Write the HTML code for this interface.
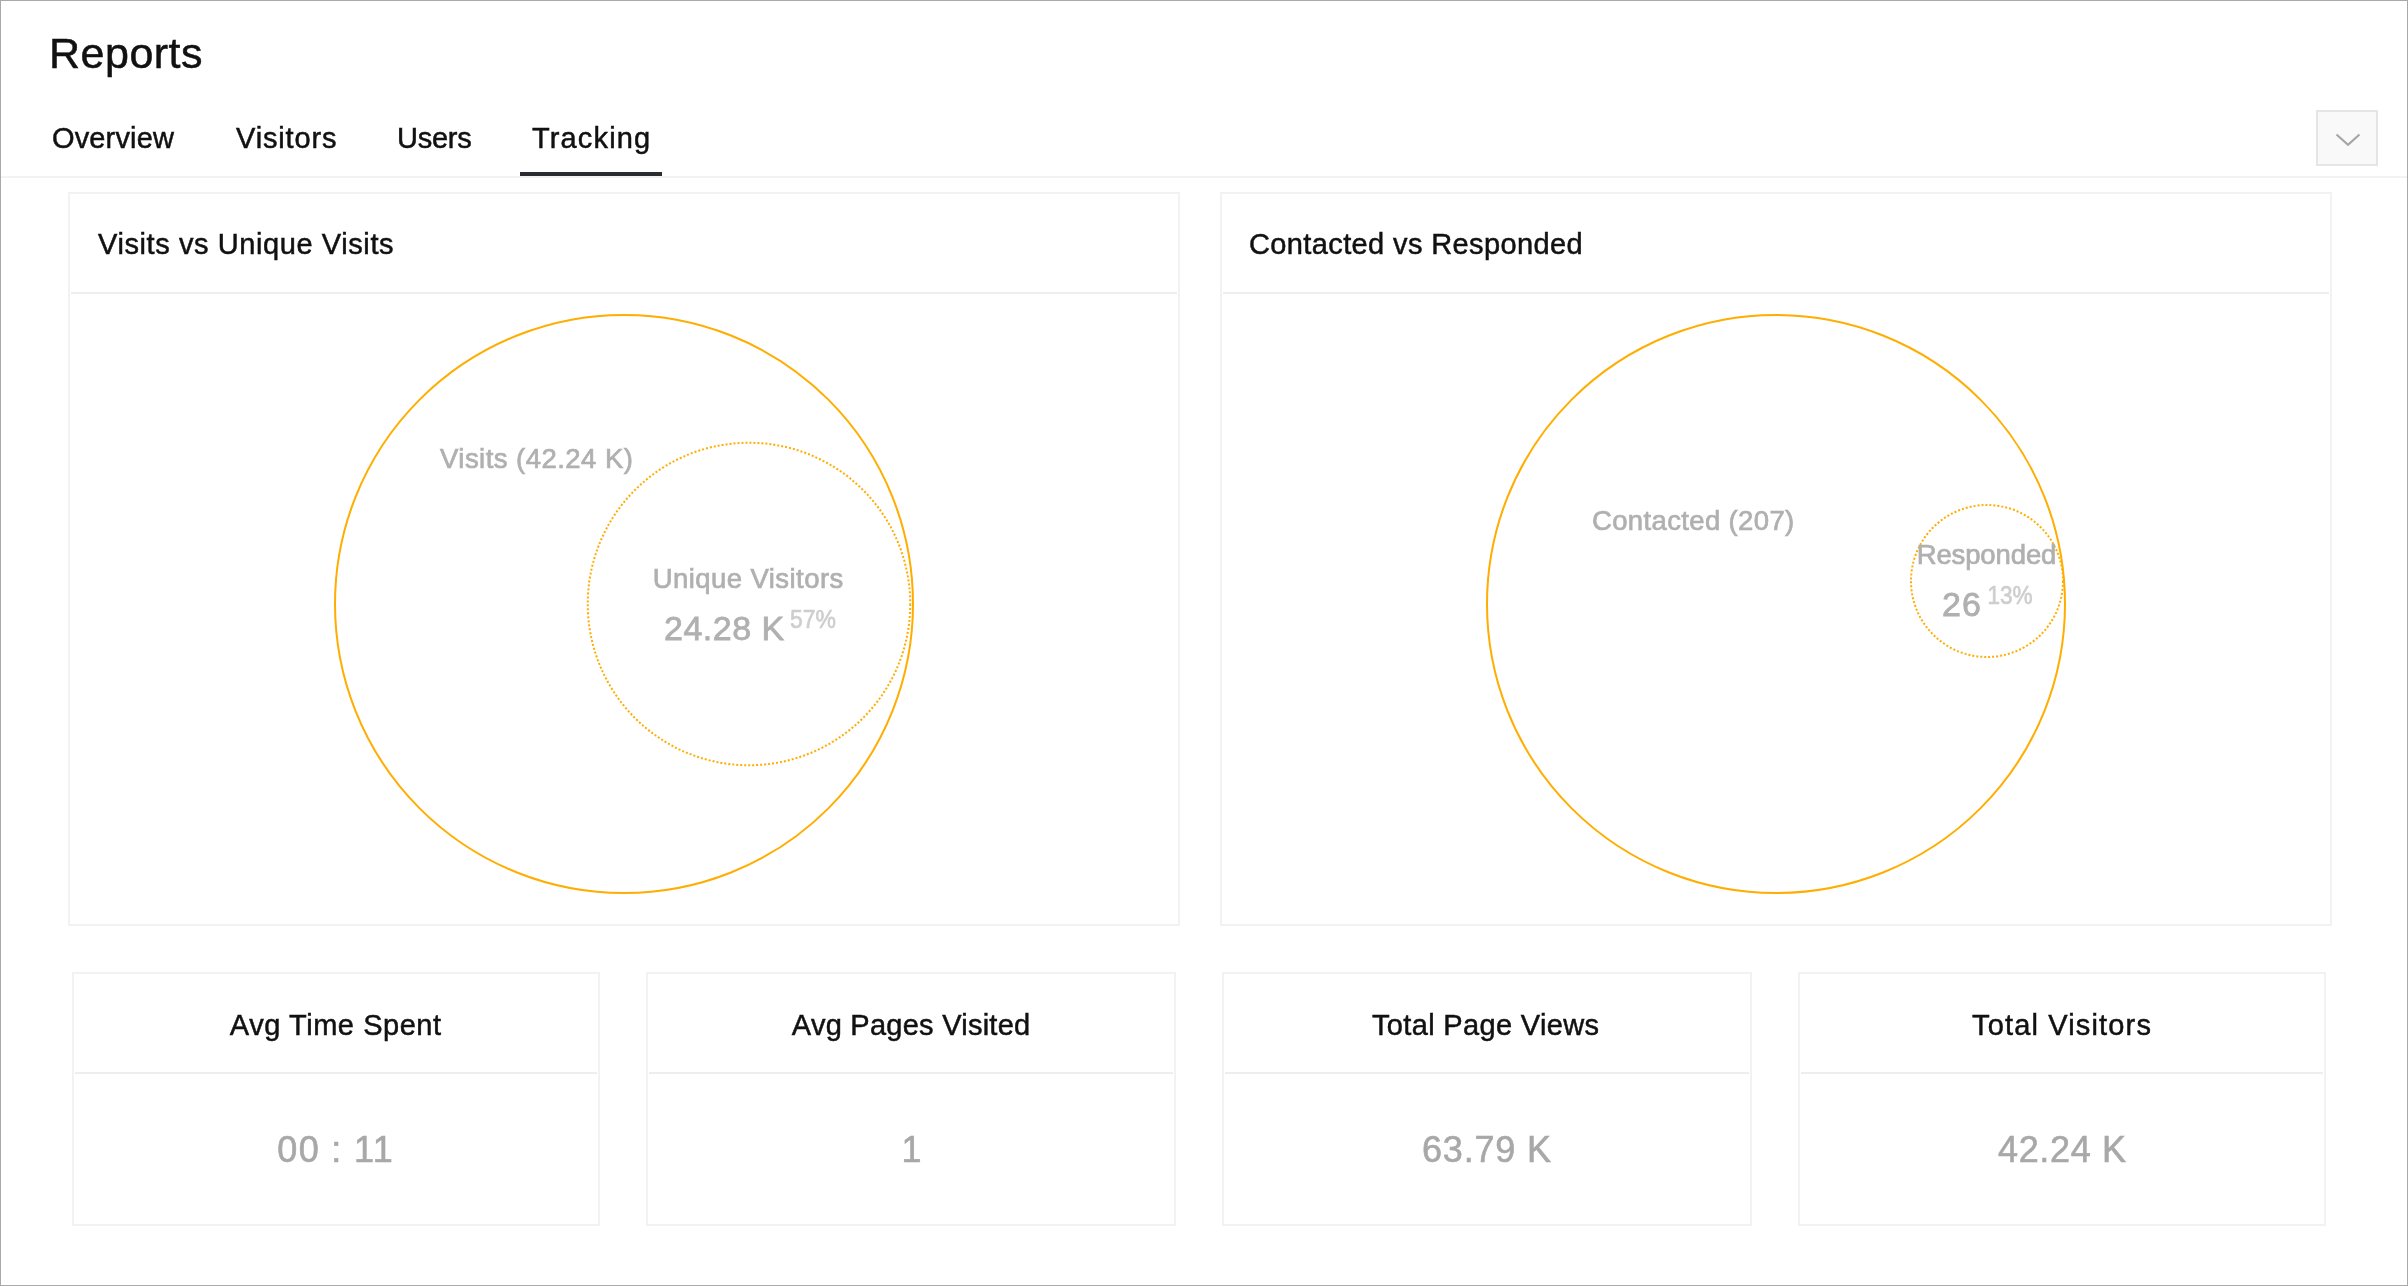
<!DOCTYPE html>
<html>
<head>
<meta charset="utf-8">
<style>
html,body{margin:0;padding:0;background:#fff;}
body{width:2408px;height:1286px;overflow:hidden;font-family:"Liberation Sans",sans-serif;}
svg{display:block;will-change:transform;}
text{font-family:"Liberation Sans",sans-serif;}
</style>
</head>
<body>
<svg width="2408" height="1286" viewBox="0 0 2408 1286">
  <rect x="0.5" y="0.5" width="2407" height="1285" fill="#fff" stroke="#a9a9a9" stroke-width="1"/>
  <rect x="520" y="172" width="142" height="4" fill="#292c30"/>
  <rect x="1" y="176" width="2406" height="2" fill="#f3f3f3"/>
  <rect x="2317" y="111" width="60" height="54" fill="#f9f9f9" stroke="#e5e5e5" stroke-width="2"/>
  <polyline points="2336.5,134.5 2348,144.8 2359.5,134.5" fill="none" stroke="#a6a6a6" stroke-width="2.2"/>
  <rect x="69" y="193" width="1110" height="732" fill="#fff" stroke="#f2f2f2" stroke-width="2"/>
  <rect x="71" y="292" width="1106" height="2" fill="#eeeeee"/>
  <rect x="1221" y="193" width="1110" height="732" fill="#fff" stroke="#f2f2f2" stroke-width="2"/>
  <rect x="1223" y="292" width="1106" height="2" fill="#eeeeee"/>
  <circle cx="624" cy="604" r="289" fill="none" stroke="#ffad00" stroke-width="2"/>
  <circle cx="749" cy="604" r="161.25" fill="none" stroke="#ffad00" stroke-width="2" stroke-dasharray="2 2"/>
  <circle cx="1776" cy="604" r="289" fill="none" stroke="#ffad00" stroke-width="2"/>
  <circle cx="1987" cy="581" r="76" fill="none" stroke="#ffad00" stroke-width="2" stroke-dasharray="2 2"/>
  <rect x="73" y="973" width="526" height="252" fill="#fff" stroke="#f2f2f2" stroke-width="2"/>
  <rect x="75" y="1072" width="522" height="2" fill="#eeeeee"/>
  <rect x="647" y="973" width="528" height="252" fill="#fff" stroke="#f2f2f2" stroke-width="2"/>
  <rect x="649" y="1072" width="524" height="2" fill="#eeeeee"/>
  <rect x="1223" y="973" width="528" height="252" fill="#fff" stroke="#f2f2f2" stroke-width="2"/>
  <rect x="1225" y="1072" width="524" height="2" fill="#eeeeee"/>
  <rect x="1799" y="973" width="526" height="252" fill="#fff" stroke="#f2f2f2" stroke-width="2"/>
  <rect x="1801" y="1072" width="522" height="2" fill="#eeeeee"/>
  <text x="49.0" y="68" fill="#111111" text-anchor="start" style="font-size:43px;letter-spacing:0.499px" stroke="#111111" stroke-width="0.5">Reports</text>
  <text x="52.0" y="148" fill="#111111" text-anchor="start" style="font-size:29px;letter-spacing:0.143px" stroke="#111111" stroke-width="0.5">Overview</text>
  <text x="236.0" y="148" fill="#111111" text-anchor="start" style="font-size:29px;letter-spacing:0.855px" stroke="#111111" stroke-width="0.5">Visitors</text>
  <text x="397.0" y="148" fill="#111111" text-anchor="start" style="font-size:29px;letter-spacing:-0.25px" stroke="#111111" stroke-width="0.5">Users</text>
  <text x="532.0" y="148" fill="#111111" text-anchor="start" style="font-size:29px;letter-spacing:1.144px" stroke="#111111" stroke-width="0.5">Tracking</text>
  <text x="98.0" y="254" fill="#111111" text-anchor="start" style="font-size:29px;letter-spacing:0.589px" stroke="#111111" stroke-width="0.5">Visits vs Unique Visits</text>
  <text x="1249.0" y="254" fill="#111111" text-anchor="start" style="font-size:29px;letter-spacing:0.381px" stroke="#111111" stroke-width="0.5">Contacted vs Responded</text>
  <text x="440.0" y="468" fill="#b0b0b0" text-anchor="start" style="font-size:27.5px;letter-spacing:0.466px" stroke="#b0b0b0" stroke-width="0.7">Visits (42.24 K)</text>
  <text x="748.21" y="588" fill="#b0b0b0" text-anchor="middle" style="font-size:27.5px;letter-spacing:0.43px" stroke="#b0b0b0" stroke-width="0.7">Unique Visitors</text>
  <text x="664.0" y="640" fill="#b0b0b0" text-anchor="start" style="font-size:34px;letter-spacing:0.5px" stroke="#b0b0b0" stroke-width="0.8">24.28 K</text>
  <text transform="translate(790 628) scale(0.9 1)" x="0" y="0" fill="#cecece" text-anchor="start" style="font-size:25.5px;letter-spacing:0px" stroke="#cecece" stroke-width="0.7">57%</text>
  <text x="1592.0" y="530" fill="#b0b0b0" text-anchor="start" style="font-size:27.5px;letter-spacing:0.36px" stroke="#b0b0b0" stroke-width="0.7">Contacted (207)</text>
  <text x="1986.46" y="564" fill="#b0b0b0" text-anchor="middle" style="font-size:27.5px;letter-spacing:-0.125px" stroke="#b0b0b0" stroke-width="0.7">Responded</text>
  <text x="1942.0" y="616" fill="#b0b0b0" text-anchor="start" style="font-size:34px;letter-spacing:1.0px" stroke="#b0b0b0" stroke-width="0.8">26</text>
  <text transform="translate(1987.5 604) scale(0.885 1)" x="0" y="0" fill="#cecece" text-anchor="start" style="font-size:25.5px;letter-spacing:0px" stroke="#cecece" stroke-width="0.7">13%</text>
  <text x="335.76" y="1035" fill="#111111" text-anchor="middle" style="font-size:29px;letter-spacing:0.542px" stroke="#111111" stroke-width="0.5">Avg Time Spent</text>
  <text x="911.14" y="1035" fill="#111111" text-anchor="middle" style="font-size:29px;letter-spacing:0.251px" stroke="#111111" stroke-width="0.5">Avg Pages Visited</text>
  <text x="1485.67" y="1035" fill="#111111" text-anchor="middle" style="font-size:29px;letter-spacing:0.333px" stroke="#111111" stroke-width="0.5">Total Page Views</text>
  <text x="2062.08" y="1035" fill="#111111" text-anchor="middle" style="font-size:29px;letter-spacing:1.154px" stroke="#111111" stroke-width="0.5">Total Visitors</text>
  <text x="335.67" y="1162" fill="#a8a8a8" text-anchor="middle" style="font-size:36px;letter-spacing:1.333px" stroke="#a8a8a8" stroke-width="0.6">00 : 11</text>
  <text x="911.5" y="1162" fill="#a8a8a8" text-anchor="middle" style="font-size:36px;letter-spacing:0px" stroke="#a8a8a8" stroke-width="0.6">1</text>
  <text x="1486.92" y="1162" fill="#a8a8a8" text-anchor="middle" style="font-size:36px;letter-spacing:0.833px" stroke="#a8a8a8" stroke-width="0.6">63.79 K</text>
  <text x="2062.35" y="1162" fill="#a8a8a8" text-anchor="middle" style="font-size:36px;letter-spacing:0.668px" stroke="#a8a8a8" stroke-width="0.6">42.24 K</text>
</svg>
</body>
</html>
